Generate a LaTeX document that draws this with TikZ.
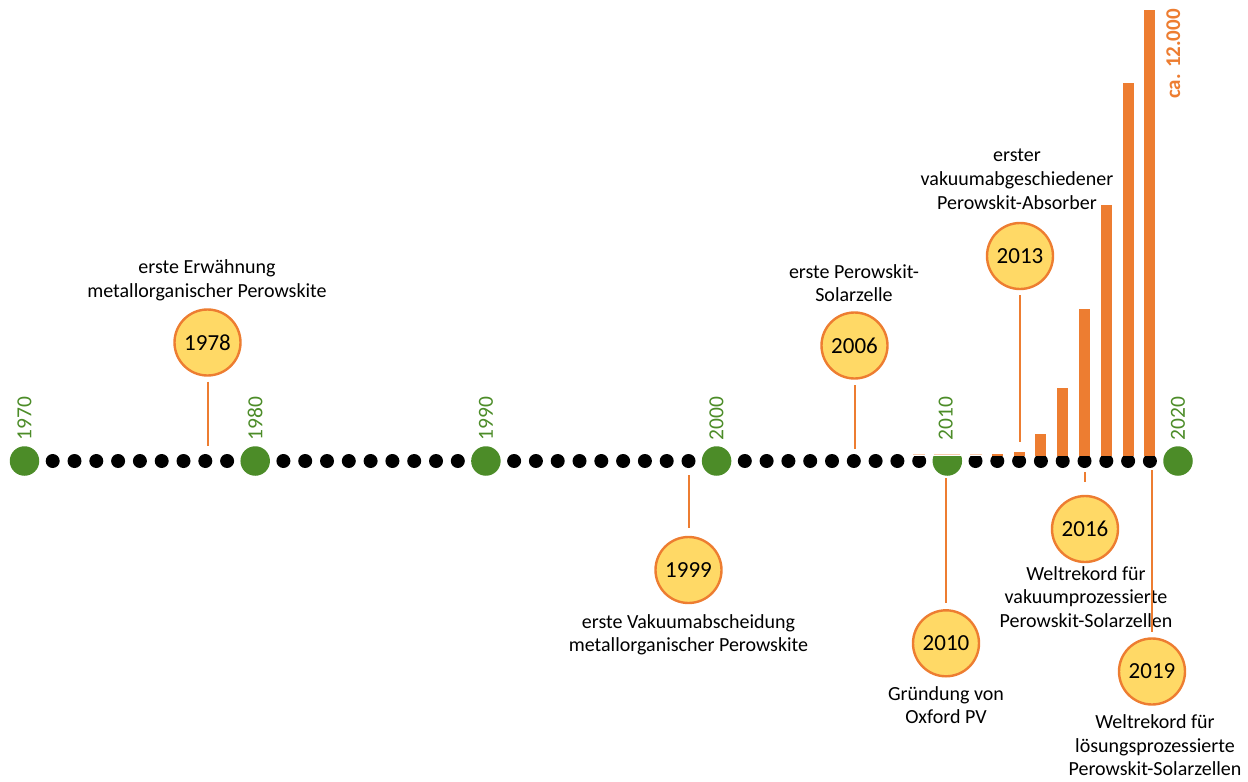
\documentclass[tikz,border=0pt]{standalone}
\usepackage{fontspec}
\setmainfont{Carlito}
\definecolor{tlgreen}{RGB}{76,140,40}
\definecolor{tlorange}{RGB}{237,125,49}
\definecolor{tlgold}{RGB}{255,217,102}
\definecolor{tlpale}{RGB}{248,203,173}
\tikzset{
  bdot/.style={circle,fill=black,inner sep=0pt,minimum size=14pt},
  gdot/.style={circle,fill=tlgreen,inner sep=0pt,minimum size=29.5pt},
  yearcircle/.style={circle,draw=tlorange,line width=2.4pt,fill=tlgold,inner sep=0pt,
    minimum size=66pt,font=\fontsize{23}{27}\selectfont},
  stem/.style={draw=tlorange,line width=2pt},
  % base anchor of a multi-line label sits on its last line
  evlabel/.style={align=center,anchor=base,inner sep=0pt,font=\fontsize{20}{23.7}\selectfont},
  axisyear/.style={rotate=90,text=tlgreen,inner sep=0pt,font=\fontsize{21.5}{24}\selectfont},
  bar/.style={fill=tlorange},
  zerobar/.style={draw=tlpale,line width=1.5pt},
}
\begin{document}
\begin{tikzpicture}[x=1pt,y=-1pt]
\useasboundingbox (0,0) rectangle (1248,782);

% timeline: green decade dots with nine black year dots in between
\foreach \dec in {0,1,2,3,4}{
  \pgfmathsetmacro\gx{24.5+230.7*\dec}
  \pgfmathtruncatemacro\yr{1970+10*\dec}
  \node[gdot] (d\yr) at (\gx,461) {};
  \foreach \k in {1,...,9}{
    \pgfmathtruncatemacro\yy{\yr+\k}
    \node[bdot] (d\yy) at ({\gx+28.2+21.8*(\k-1)},461) {};
  }
}
\node[gdot] (d2020) at (1178,461) {};

% publication bar chart sitting on the last decade
\fill[white] (908,440) rectangle (1161.5,456);
\draw[zerobar] (913,454.5) -- (925,454.5);
\draw[zerobar] (934,454.5) -- (960,454.5);
\draw[zerobar] (970,454.5) -- (981.5,454.5);
\foreach \k/\t in {2/453.5,3/451.7,4/434.3,5/388,6/309,7/205,8/83.3,9/10}{
  \pgfmathsetmacro\bx{947.3+28.2+21.8*(\k-1)}
  \fill[bar] (\bx-5.5,455.5) rectangle (\bx+5.5,\t);
}
\node[rotate=90,text=tlorange,inner sep=0pt,font=\fontsize{21}{24}\selectfont\bfseries]
  (total) at (1173.3,54) {ca. 12.000};

% decade labels
\node[axisyear] (y1970) at (24.5,418.5) {1970};
\node[axisyear] (y1980) at (255,418.5) {1980};
\node[axisyear] (y1990) at (486,418.5) {1990};
\node[axisyear] (y2000) at (716.5,418.5) {2000};
\node[axisyear] (y2010) at (945.7,418.5) {2010};
\node[axisyear] (y2020) at (1178,418.5) {2020};

% milestones
\node[yearcircle] (c1978) at (207.5,342.5) {1978};
\node[yearcircle] (c1999) at (688.5,570) {1999};
\node[yearcircle] (c2006) at (854.5,345.5) {2006};
\node[yearcircle] (c2010) at (946,643.3) {2010};
\node[yearcircle] (c2013) at (1020,256) {2013};
\node[yearcircle] (c2016) at (1085,529) {2016};

\node[evlabel] (t1978) at (207,297.2) {erste Erwähnung\\metallorganischer Perowskite};
\node[evlabel] (t1999) at (688.5,651.7) {erste Vakuumabscheidung\\metallorganischer Perowskite};
\node[evlabel] (t2006) at (854,301.7) {erste Perowskit-\\Solarzelle};
\node[evlabel] (t2010) at (946,723.7) {Gründung von\\Oxford PV};
\node[evlabel] (t2013) at (1017,209.1) {erster\\vakuumabgeschiedener\\Perowskit-Absorber};
\node[evlabel] (t2016) at (1086,627.4) {Weltrekord für\\vakuumprozessierte\\Perowskit-Solarzellen};
\node[evlabel] (t2019) at (1155,775.7) {Weltrekord für\\lösungsprozessierte\\Perowskit-Solarzellen};

\draw[stem,shorten <=5pt,shorten >=8pt] (c1978.south) -- (c1978 |- d1978.north);
\draw[stem,shorten <=7pt,shorten >=7.7pt] (c1999 |- d1999.south) -- (c1999.north);
\draw[stem,shorten <=5.7pt,shorten >=5pt] (c2006.south) -- (c2006 |- d2006.north);
\draw[stem,shorten <=2.5pt,shorten >=6pt] (c2010 |- d2010.south) -- (c2010.north);
\draw[stem,shorten <=5pt,shorten >=12pt] (c2013.south) -- (c2013 |- d2013.north);
\draw[stem,shorten <=4pt,shorten >=13pt] (c2016 |- d2016.south) -- (c2016.north);

\node[yearcircle] (c2019) at (1152,671.5) {2019};
\draw[stem,shorten <=2pt,shorten >=5.5pt] (c2019 |- d2019.south) -- (c2019.north);
\end{tikzpicture}
\end{document}
